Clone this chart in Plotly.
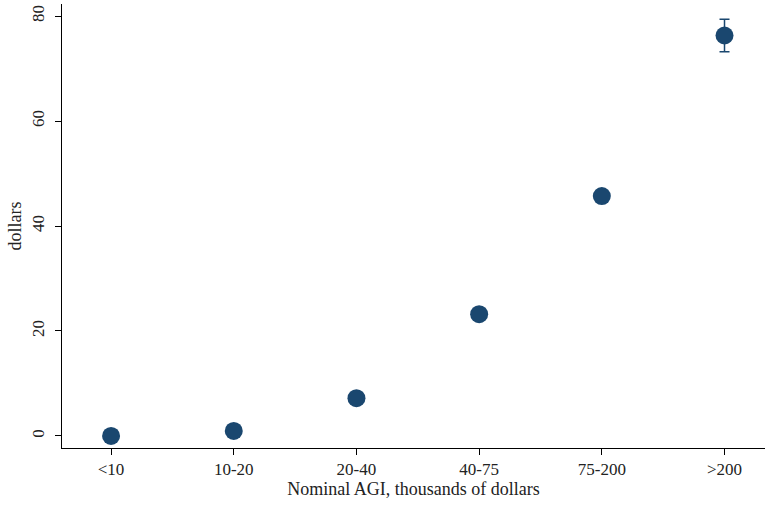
import plotly.graph_objects as go

categories = ["<10", "10-20", "20-40", "40-75", "75-200", ">200"]
values = [0.0, 0.95, 7.2, 23.2, 45.7, 76.3]
err_plus = [0, 0, 0, 0, 0, 3.1]
err_minus = [0, 0, 0, 0, 0, 3.1]
y_ticks = [0, 20, 40, 60, 80]

navy = "#1a476f"
fam = "Liberation Serif, Times New Roman, serif"
font = dict(family=fam, size=17, color="#222")
tickfont = dict(family=fam, size=17, color="#222")
titlefont = dict(family=fam, size=18, color="#222")

fig = go.Figure()
fig.add_trace(go.Scatter(
    x=list(range(len(categories))), y=values, mode="markers",
    marker=dict(size=18, color=navy),
    error_y=dict(type="data", symmetric=False, array=err_plus, arrayminus=err_minus,
                 color=navy, thickness=1.5, width=5),
    showlegend=False,
))
fig.update_layout(
    width=765, height=505,
    margin=dict(l=62, r=0, t=4, b=57),
    paper_bgcolor="white", plot_bgcolor="white",
    font=font,
    xaxis=dict(
        range=[-0.4, 5.33], tickmode="array",
        tickvals=list(range(len(categories))), ticktext=categories,
        showgrid=False, zeroline=False, showline=True, linecolor="black", linewidth=1,
        ticks="outside", ticklen=6, tickcolor="black", tickfont=tickfont,
        automargin=False,
        title=dict(text="Nominal AGI, thousands of dollars", standoff=2, font=titlefont),
    ),
    yaxis=dict(
        range=[-2.3, 82.3], tickmode="array", tickvals=y_ticks,
        showgrid=False, zeroline=False, showline=True, linecolor="black", linewidth=1,
        ticks="outside", ticklen=6, tickcolor="black", tickangle=-90, tickfont=tickfont,
        ticklabelstandoff=4,
        automargin=False,
        title=dict(text="dollars", standoff=2, font=titlefont),
    ),
)
fig.write_html("out.html", config={"displayModeBar": False},
               post_script="document.body.style.margin='0';")
